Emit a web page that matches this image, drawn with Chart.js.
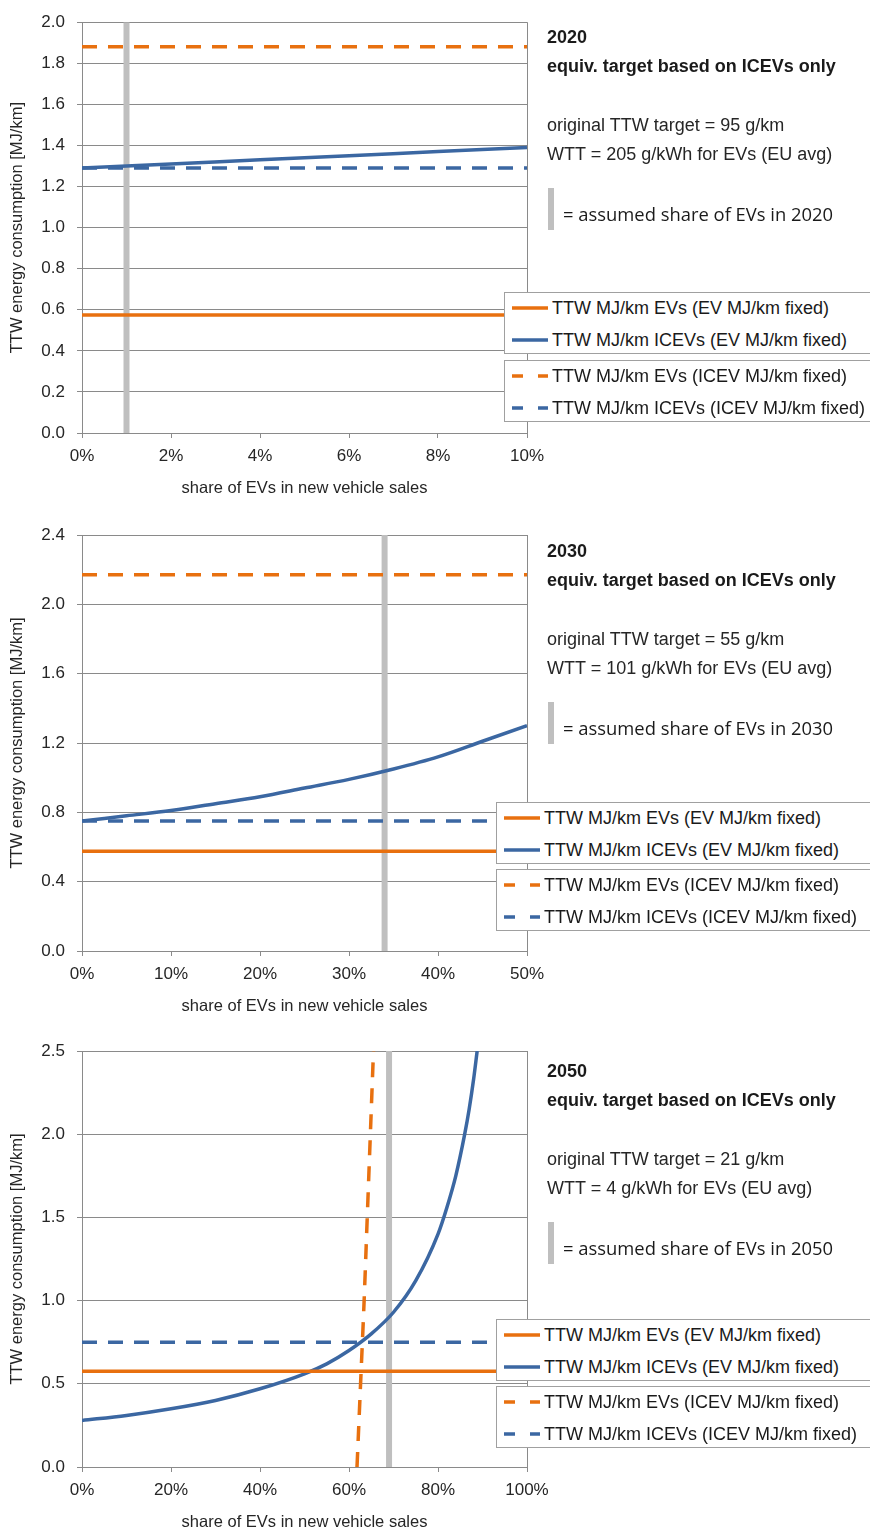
<!DOCTYPE html>
<html>
<head>
<meta charset="utf-8">
<title>EV share vs equivalent ICEV target</title>
<script src="https://cdn.jsdelivr.net/npm/chart.js@4.4.1/dist/chart.umd.min.js"></script>
<style>
  body { margin: 0; width: 870px; height: 1534px; position: relative; overflow: hidden; background: #fff;
         font-family: "Liberation Sans", Arial, sans-serif; }
  canvas { position: absolute; left: 0; }
  .note { position: absolute; left: 547px; font-size: 18px; line-height: 20px; color: #262626; white-space: nowrap; }
  .note.bold { font-weight: bold; color: #1a1a1a; }
  .note.share { left: 563px; font-family: "Open Sans", sans-serif; font-size: 18.4px; color: #1a1a1a; }
  .bar { position: absolute; left: 548px; width: 6px; background: #bfbfbf; }
  .legend { position: absolute; width: 420px; height: 62px; box-sizing: border-box; border: 1px solid #a0a0a0; background: #fff; }
  .legend svg { position: absolute; left: 7px; }
  .legend span { position: absolute; left: 47px; font-size: 18px; line-height: 20px; color: #1a1a1a; white-space: nowrap; }
</style>
</head>
<body>
<canvas id="chart2020" width="870" height="510" style="top:0px"></canvas>
<canvas id="chart2030" width="870" height="515" style="top:510px"></canvas>
<canvas id="chart2050" width="870" height="509" style="top:1025px"></canvas>

<script>
// ---- 2020 ----
const share2020 = [0, 0.02, 0.04, 0.06, 0.08, 0.10];
const icevEvFixed2020 = [1.29, 1.31, 1.33, 1.35, 1.37, 1.39];
const flatShare2020 = [0, 0.10];
const evEvFixed2020 = [0.575, 0.575];
const evIcevFixed2020 = [1.88, 1.88];
const icevIcevFixed2020 = [1.29, 1.29];
const assumedShare2020 = 0.01;
const xTicks2020 = ["0%", "2%", "4%", "6%", "8%", "10%"];
const yTicks2020 = ["0.0", "0.2", "0.4", "0.6", "0.8", "1.0", "1.2", "1.4", "1.6", "1.8", "2.0"];

// ---- 2030 ----
const share2030 = [0, 0.05, 0.10, 0.15, 0.20, 0.25, 0.30, 0.35, 0.40, 0.45, 0.50];
const icevEvFixed2030 = [0.75, 0.78, 0.81, 0.85, 0.89, 0.94, 0.99, 1.05, 1.12, 1.21, 1.30];
const flatShare2030 = [0, 0.50];
const evEvFixed2030 = [0.575, 0.575];
const evIcevFixed2030 = [2.17, 2.17];
const icevIcevFixed2030 = [0.75, 0.75];
const assumedShare2030 = 0.34;
const xTicks2030 = ["0%", "10%", "20%", "30%", "40%", "50%"];
const yTicks2030 = ["0.0", "0.4", "0.8", "1.2", "1.6", "2.0", "2.4"];

// ---- 2050 ----
const share2050 = [0, 0.10, 0.20, 0.30, 0.40, 0.50, 0.55, 0.60, 0.65, 0.70, 0.75, 0.80, 0.82, 0.84, 0.86, 0.87, 0.88, 0.888];
const icevEvFixed2050 = [0.28, 0.31, 0.35, 0.40, 0.47, 0.56, 0.62, 0.70, 0.80, 0.93, 1.12, 1.40, 1.56, 1.75, 2.00, 2.15, 2.33, 2.50];
const evIcevFixedShare2050 = [0.618, 0.626, 0.634, 0.641, 0.648, 0.655];
const evIcevFixed2050 = [0, 0.5, 1.0, 1.5, 2.0, 2.5];
const flatShare2050 = [0, 1.0];
const evEvFixed2050 = [0.575, 0.575];
const icevIcevFixed2050 = [0.75, 0.75];
const assumedShare2050 = 0.69;
const xTicks2050 = ["0%", "20%", "40%", "60%", "80%", "100%"];
const yTicks2050 = ["0.0", "0.5", "1.0", "1.5", "2.0", "2.5"];

const legendLabels = [
  "TTW MJ/km EVs (EV MJ/km fixed)",
  "TTW MJ/km ICEVs (EV MJ/km fixed)",
  "TTW MJ/km EVs (ICEV MJ/km fixed)",
  "TTW MJ/km ICEVs (ICEV MJ/km fixed)"
];

const ORANGE = "#e8700f";
const BLUE = "#3b67a2";
const MARKER = "#bfbfbf";
const GRID = "#8a8a8a";
const TEXT = "#262626";
const DASH = [15, 11];

Chart.defaults.font.family = "'Liberation Sans', Arial, sans-serif";
Chart.defaults.color = TEXT;

function pts(xs, ys) {
  return xs.map((x, i) => ({ x: x, y: ys[i] }));
}

// right-hand frame line of the plot area
const plotFrame = {
  id: "plotFrame",
  beforeDatasetsDraw(chart) {
    const { ctx, chartArea: a } = chart;
    const x = Math.round(a.right) + 0.5;
    ctx.save();
    ctx.strokeStyle = GRID;
    ctx.lineWidth = 1;
    ctx.beginPath();
    ctx.moveTo(x, a.top);
    ctx.lineTo(x, a.bottom);
    ctx.stroke();
    ctx.restore();
  }
};

function lineSet(label, data, color, dashed) {
  return {
    label: label,
    data: data,
    borderColor: color,
    backgroundColor: color,
    borderWidth: 3.5,
    borderDash: dashed ? DASH : [],
    pointRadius: 0,
    cubicInterpolationMode: "monotone",
    fill: false
  };
}

function makeChart(id, c) {
  return new Chart(document.getElementById(id).getContext("2d"), {
    type: "line",
    data: {
      datasets: [
        lineSet(legendLabels[0], pts(c.flat, c.evEv), ORANGE, false),
        lineSet(legendLabels[1], pts(c.share, c.icevEv), BLUE, false),
        lineSet(legendLabels[2], c.evIcev, ORANGE, true),
        lineSet(legendLabels[3], pts(c.flat, c.icevIcev), BLUE, true),
        {
          label: "assumed share",
          data: pts([c.assumed, c.assumed], [0, c.yMax]),
          borderColor: MARKER,
          borderWidth: 6,
          pointRadius: 0
        }
      ]
    },
    options: {
      responsive: false,
      animation: false,
      layout: { padding: { left: 0, right: 343, top: c.top, bottom: c.bottom } },
      plugins: { legend: { display: false }, tooltip: { enabled: false } },
      scales: {
        x: {
          type: "linear",
          min: 0,
          max: c.xMax,
          ticks: {
            stepSize: c.xStep,
            padding: 8,
            maxRotation: 0,
            autoSkip: false,
            font: { size: 17 },
            callback: (v, i) => c.xTicks[i]
          },
          grid: { drawOnChartArea: false, tickLength: 5, color: GRID },
          border: { color: GRID },
          title: {
            display: true,
            text: "share of EVs in new vehicle sales",
            font: { size: 16.5 },
            padding: { top: 0, bottom: 1 }
          },
          afterFit: (s) => { s.height = 66; }
        },
        y: {
          min: 0,
          max: c.yMax,
          ticks: {
            stepSize: c.yStep,
            padding: 12,
            autoSkip: false,
            font: { size: 17 },
            callback: (v, i) => c.yTicks[i]
          },
          grid: { tickLength: 5, color: GRID },
          border: { color: GRID },
          title: {
            display: true,
            text: "TTW energy consumption [MJ/km]",
            font: { size: 16.5 },
            padding: { top: 8, bottom: 0 }
          },
          afterFit: (s) => { s.width = 82; }
        }
      }
    },
    plugins: [plotFrame]
  });
}

makeChart("chart2020", {
  share: share2020, icevEv: icevEvFixed2020, flat: flatShare2020,
  evEv: evEvFixed2020, evIcev: pts(flatShare2020, evIcevFixed2020), icevIcev: icevIcevFixed2020,
  assumed: assumedShare2020, xTicks: xTicks2020, yTicks: yTicks2020,
  xMax: 0.10, xStep: 0.02, yMax: 2.0, yStep: 0.2, top: 17, bottom: 11
});

makeChart("chart2030", {
  share: share2030, icevEv: icevEvFixed2030, flat: flatShare2030,
  evEv: evEvFixed2030, evIcev: pts(flatShare2030, evIcevFixed2030), icevIcev: icevIcevFixed2030,
  assumed: assumedShare2030, xTicks: xTicks2030, yTicks: yTicks2030,
  xMax: 0.50, xStep: 0.10, yMax: 2.4, yStep: 0.4, top: 25, bottom: 8
});

makeChart("chart2050", {
  share: share2050, icevEv: icevEvFixed2050, flat: flatShare2050,
  evEv: evEvFixed2050, evIcev: pts(evIcevFixedShare2050, evIcevFixed2050), icevIcev: icevIcevFixed2050,
  assumed: assumedShare2050, xTicks: xTicks2050, yTicks: yTicks2050,
  xMax: 1.0, xStep: 0.2, yMax: 2.5, yStep: 0.5, top: 26, bottom: 1
});

// side notes and legend boxes, placed as html over the canvases
function addDiv(cls, css, text) {
  const d = document.createElement("div");
  d.className = cls;
  d.style.cssText = css;
  if (text) d.textContent = text;
  document.body.appendChild(d);
  return d;
}

function addNotes(y, year, target, wtt) {
  addDiv("note bold", "top:" + (y - 10) + "px", String(year));
  addDiv("note bold", "top:" + (y + 19) + "px", "equiv. target based on ICEVs only");
  addDiv("note", "top:" + (y + 78) + "px", "original TTW target = " + target + " g/km");
  addDiv("note", "top:" + (y + 107) + "px", "WTT = " + wtt + " g/kWh for EVs (EU avg)");
  addDiv("bar", "top:" + (y + 151) + "px;height:42px");
  addDiv("note share", "top:" + (y + 167) + "px", "= assumed share of EVs in " + year);
}

function legendSample(color, dashed) {
  const ns = "http://www.w3.org/2000/svg";
  const svg = document.createElementNS(ns, "svg");
  svg.setAttribute("width", "36");
  svg.setAttribute("height", "6");
  const ln = document.createElementNS(ns, "line");
  ln.setAttribute("x1", "0"); ln.setAttribute("y1", "3");
  ln.setAttribute("x2", "36"); ln.setAttribute("y2", "3");
  ln.setAttribute("stroke", color);
  ln.setAttribute("stroke-width", "3.5");
  if (dashed) ln.setAttribute("stroke-dasharray", "11 15");
  svg.appendChild(ln);
  return svg;
}

function addLegends(left, top1, top2) {
  const styles = [[ORANGE, false], [BLUE, false], [ORANGE, true], [BLUE, true]];
  [top1, top2].forEach((top, b) => {
    const box = addDiv("legend", "left:" + left + "px;top:" + top + "px");
    [0, 1].forEach((r) => {
      const k = b * 2 + r;
      const cy = 15 + r * 32;
      const svg = legendSample(styles[k][0], styles[k][1]);
      svg.style.top = (cy - 3) + "px";
      box.appendChild(svg);
      const s = document.createElement("span");
      s.style.top = (cy - 10) + "px";
      s.textContent = legendLabels[k];
      box.appendChild(s);
    });
  });
}

addNotes(37, 2020, 95, 205);
addNotes(551, 2030, 55, 101);
addNotes(1071, 2050, 21, 4);

addLegends(504, 292, 360);
addLegends(496, 802, 869);
addLegends(496, 1319, 1386);
</script>
</body>
</html>
